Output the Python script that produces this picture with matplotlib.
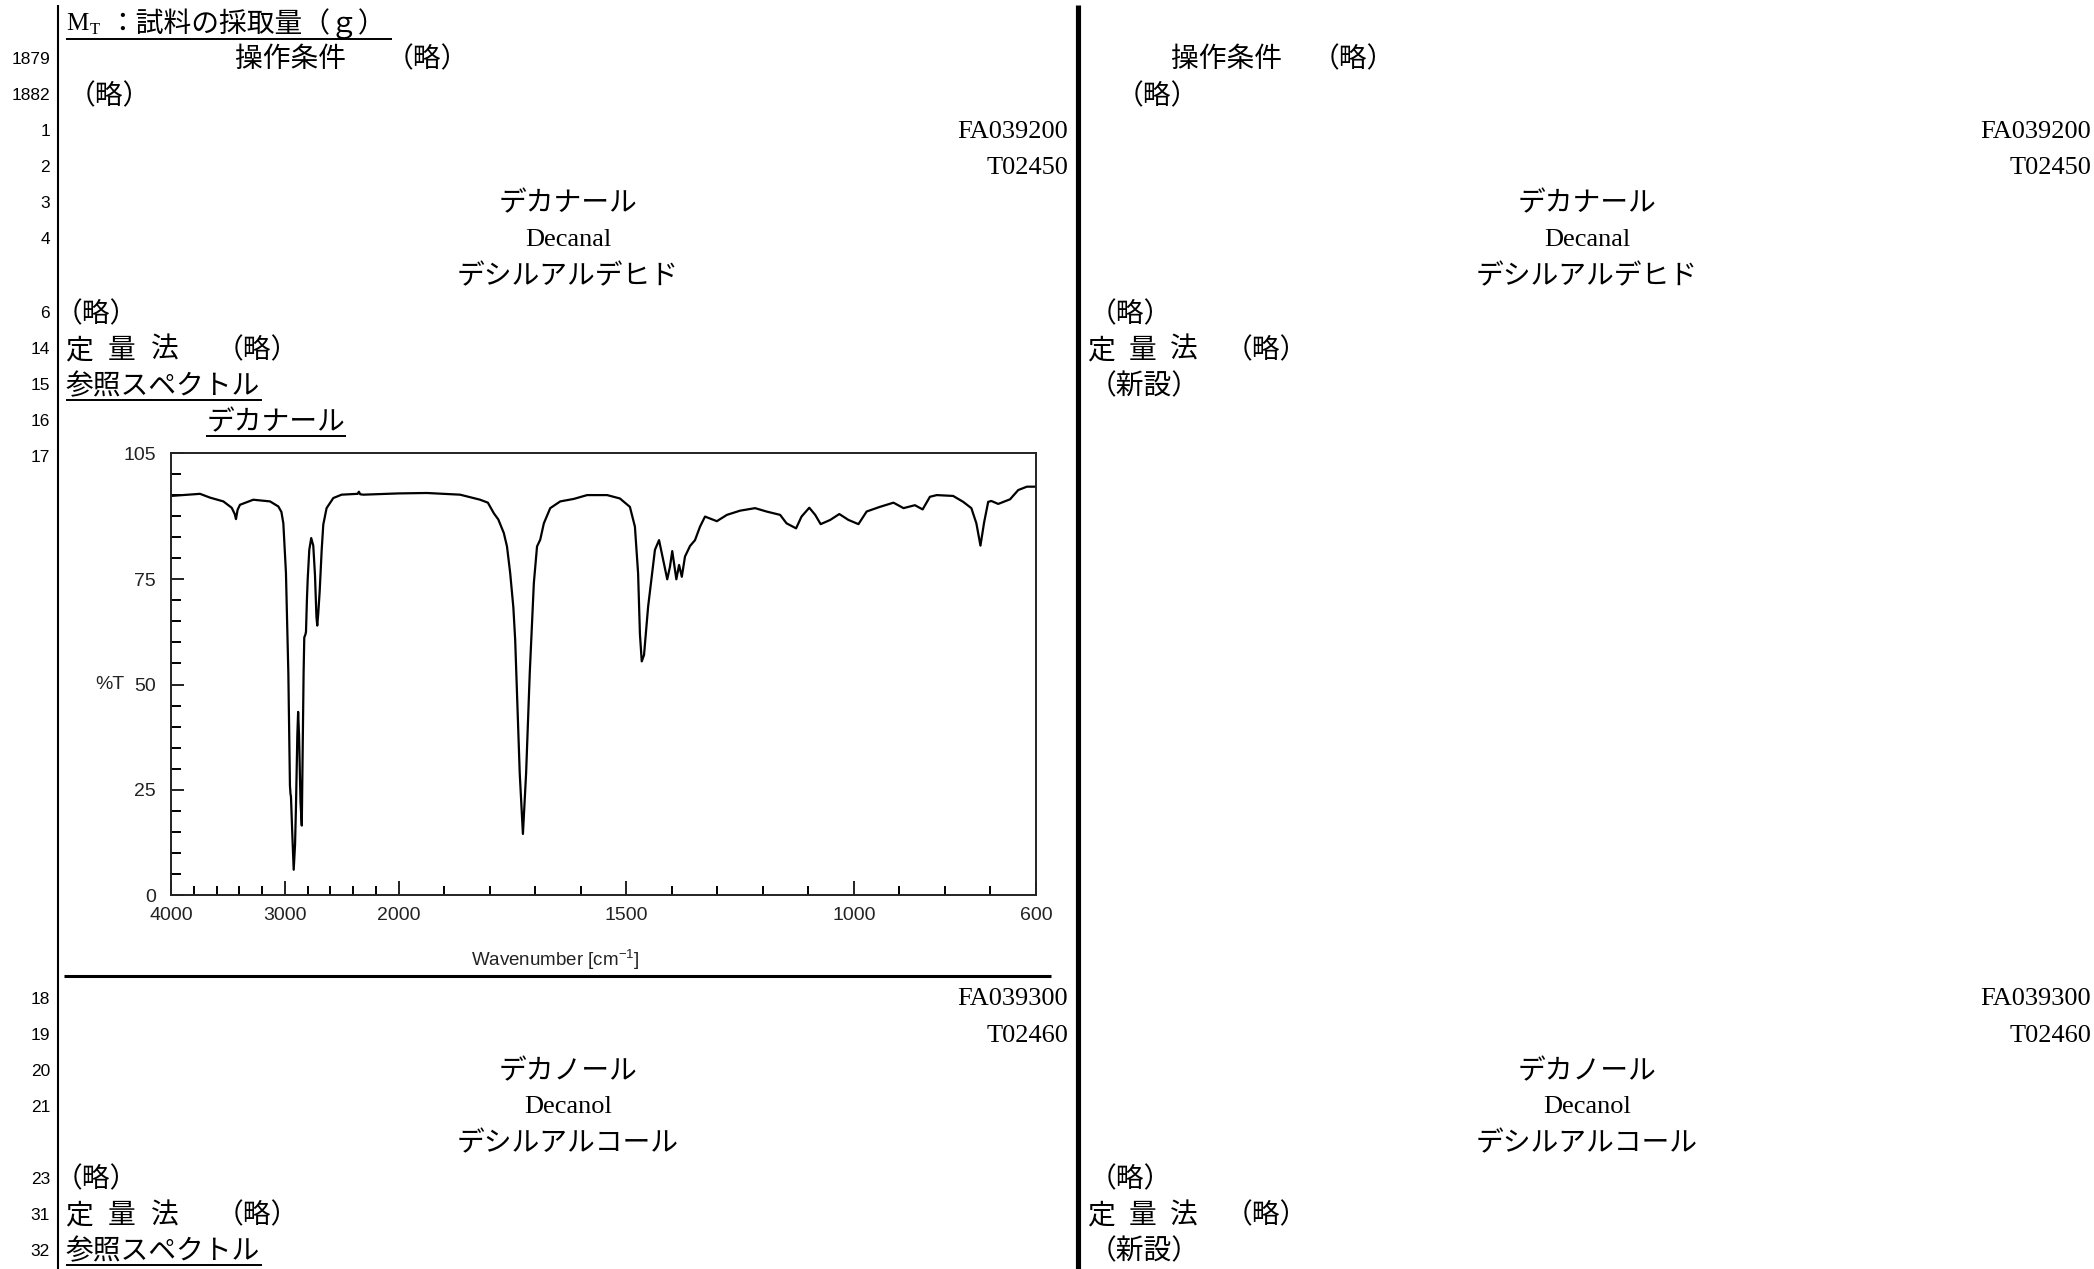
import numpy as np
import matplotlib
matplotlib.use("Agg")
import matplotlib.pyplot as plt
from matplotlib.lines import Line2D
from matplotlib.ticker import FixedLocator, FixedFormatter, NullFormatter
import matplotlib.transforms as mtransforms

# ---------------- data ----------------
wavenumber = [4000, 3900, 3745, 3657, 3540, 3467, 3440, 3429, 3415, 3394, 3277, 3130, 3057,
              3030, 3013, 2990, 2969, 2955, 2950, 2946, 2935, 2922, 2910, 2902, 2890, 2883,
              2875, 2862, 2851, 2843, 2835, 2829, 2820, 2814, 2806, 2799, 2785, 2768, 2750,
              2735, 2722, 2715, 2706, 2694, 2676, 2662, 2633, 2574, 2501, 2360, 2349, 2338,
              2310, 2000, 1938, 1865, 1821, 1804, 1791, 1781, 1769, 1762, 1755, 1748, 1744,
              1734, 1727, 1720, 1712,
              1703, 1696, 1689, 1681, 1667, 1645, 1615, 1586, 1542, 1514, 1492, 1481, 1474,
              1470, 1466, 1461, 1452, 1444, 1437, 1428, 1419, 1410, 1404, 1399, 1394, 1390,
              1384, 1378, 1371, 1360, 1349, 1338, 1327, 1301, 1279, 1250, 1217, 1192, 1162,
              1148, 1127, 1115, 1098, 1085, 1073, 1052, 1032, 1012, 990, 972, 943, 913, 891,
              866, 849, 833, 818, 782, 760, 742, 731, 722, 714, 705, 698, 683, 657, 639, 620,
              600]
transmittance = [94.8, 95.0, 95.3, 94.4, 93.5, 92.0, 90.5, 89.3, 91.5, 92.7, 93.9, 93.5, 92.3,
                 91.0, 88.3, 76.5, 52.7, 26.0, 24.0, 23.4, 15.0, 6.0, 12.0, 21.0, 38.0, 43.5,
                 38.0, 22.0, 16.5, 35.0, 52.7, 61.2, 61.8, 62.5, 70.0, 75.0, 82.0, 84.8, 83.0,
                 76.0, 66.0, 64.0, 67.0, 72.0, 82.0, 88.0, 91.9, 94.3, 95.1, 95.3, 95.8, 95.2,
                 95.1, 95.4, 95.5, 95.1, 93.9, 93.2, 90.7, 89.2, 86.0, 82.8, 76.5, 68.3, 60.6,
                 28.9, 14.5, 28.9, 52.7,
                 74.1, 82.8, 84.4, 88.3, 91.9, 93.5, 94.1, 95.0, 95.0, 94.2, 92.2, 87.5, 76.4,
                 62.0, 55.5, 57.0, 68.5, 75.6, 82.0, 84.3, 79.6, 75.0, 78.0, 81.7, 78.0, 75.0,
                 78.4, 75.6, 80.4, 82.9, 84.3, 87.5, 89.9, 88.8, 90.3, 91.3, 91.9, 91.1, 90.3,
                 88.3, 87.1, 89.9, 92.0, 90.3, 88.1, 89.1, 90.5, 89.1, 88.1, 91.1, 92.2, 93.2, 91.9,
                 92.6, 91.6, 94.6, 95.0, 94.8, 93.4, 91.9, 88.3, 83.0, 88.5, 93.4, 93.6, 92.9, 94.0, 96.2, 97.0,
                 97.0]
x_major_ticks = [4000, 3000, 2000, 1500, 1000, 600]
x_minor_ticks = [3800, 3600, 3400, 3200, 2800, 2600, 2400, 2200, 1900, 1800, 1700, 1600,
                 1400, 1300, 1200, 1100, 900, 800, 700]
y_major_ticks = [0, 25, 50, 75, 105]
y_minor_ticks = [5, 10, 15, 20, 30, 35, 40, 45, 55, 60, 65, 70, 80, 85, 90, 95, 100]

line_numbers = ["1879", "1882", "1", "2", "3", "4", "6", "14", "15", "16", "17",
                "18", "19", "20", "21", "23", "31", "32"]
codes_1 = ["FA039200", "T02450"]
names_1 = ["デカナール", "Decanal", "デシルアルデヒド"]
codes_2 = ["FA039300", "T02460"]
names_2 = ["デカノール", "Decanol", "デシルアルコール"]

# ---------------- layout ----------------
W, H = 2094, 1269
JP = ["Noto Sans CJK JP", "DejaVu Sans"]
SERIF = ["Liberation Serif", "Noto Sans CJK JP"]
plt.rcParams["font.family"] = JP
plt.rcParams["mathtext.default"] = "regular"

fig = plt.figure(figsize=(W / 100, H / 100), dpi=100)
fig.patch.set_facecolor("white")


def fx(x):
    return x / W


def fy(y):
    return 1 - y / H


def put(x, y, s, ha="left", size=20, family=None, **kw):
    fig.text(fx(x), fy(y), s, ha=ha, va="center", fontsize=size,
             family=family if family is not None else JP, **kw)


def hline(x0, x1, y, lw=1.5):
    fig.add_artist(Line2D([fx(x0), fx(x1)], [fy(y), fy(y)], transform=fig.transFigure,
                          color="black", lw=lw, solid_capstyle="butt"))


def vline(x, y0, y1, lw=1.5):
    fig.add_artist(Line2D([fx(x), fx(x)], [fy(y0), fy(y1)], transform=fig.transFigure,
                          color="black", lw=lw, solid_capstyle="butt"))


# rule lines
vline(58, 5, H, lw=1.5)
vline(1078, 5, H, lw=3.7)
hline(64, 1051, 976, lw=2.2)

# line numbers
num_rows = [59, 96, 132, 168, 203, 240, 314, 350, 386, 422, 457,
            999, 1036, 1071, 1107, 1179, 1215, 1251]
for n, yy in zip(line_numbers, num_rows):
    put(50, yy, n, ha="right", size=12.5, family=["Liberation Sans"])

# M_T line
put(66, 24, "M", size=18, family=SERIF)
put(90, 30, "T", size=12, family=SERIF)
put(108, 24, "：試料の採取量（ｇ）", size=20)
hline(66, 392, 39, lw=1.4)

# ---- left column ----
put(235, 59, "操作条件", size=20)
put(386, 59, "（略）", size=20)
put(68, 96, "（略）", size=20)
put(1068, 132, codes_1[0], ha="right", size=19, family=SERIF)
put(1068, 168, codes_1[1], ha="right", size=19, family=SERIF)
put(568, 203, names_1[0], ha="center", size=20)
put(568, 240, names_1[1], ha="center", size=19, family=SERIF)
put(568, 276, names_1[2], ha="center", size=20)
put(55, 314, "（略）", size=20)
for ch, xx in zip("定量法", [65, 108, 151]):
    put(xx, 350, ch, size=20)
put(216, 350, "（略）", size=20)
put(65, 386, "参照スペクトル", size=20)
hline(66, 262, 400, lw=1.4)
put(207, 422, names_1[0], size=20)
hline(206, 346, 436, lw=1.4)

put(1068, 999, codes_2[0], ha="right", size=19, family=SERIF)
put(1068, 1036, codes_2[1], ha="right", size=19, family=SERIF)
put(568, 1071, names_2[0], ha="center", size=20)
put(568, 1107, names_2[1], ha="center", size=19, family=SERIF)
put(568, 1143, names_2[2], ha="center", size=20)
put(55, 1179, "（略）", size=20)
for ch, xx in zip("定量法", [65, 108, 151]):
    put(xx, 1215, ch, size=20)
put(216, 1215, "（略）", size=20)
put(65, 1251, "参照スペクトル", size=20)
hline(66, 262, 1265, lw=1.4)

# ---- right column ----
put(1171, 59, "操作条件", size=20)
put(1312, 59, "（略）", size=20)
put(1116, 96, "（略）", size=20)
put(2091, 132, codes_1[0], ha="right", size=19, family=SERIF)
put(2091, 168, codes_1[1], ha="right", size=19, family=SERIF)
put(1587, 203, names_1[0], ha="center", size=20)
put(1587, 240, names_1[1], ha="center", size=19, family=SERIF)
put(1587, 276, names_1[2], ha="center", size=20)
put(1089, 314, "（略）", size=20)
for ch, xx in zip("定量法", [1087, 1129, 1170]):
    put(xx, 350, ch, size=20)
put(1225, 350, "（略）", size=20)
put(1089, 386, "（新設）", size=20)

put(2091, 999, codes_2[0], ha="right", size=19, family=SERIF)
put(2091, 1036, codes_2[1], ha="right", size=19, family=SERIF)
put(1587, 1071, names_2[0], ha="center", size=20)
put(1587, 1107, names_2[1], ha="center", size=19, family=SERIF)
put(1587, 1143, names_2[2], ha="center", size=20)
put(1089, 1179, "（略）", size=20)
for ch, xx in zip("定量法", [1087, 1129, 1170]):
    put(xx, 1215, ch, size=20)
put(1225, 1215, "（略）", size=20)
put(1089, 1251, "（新設）", size=20)

# ---------------- spectrum chart ----------------
ax_l, ax_r, ax_t, ax_b = 171, 1036, 453, 895
ax = fig.add_axes([fx(ax_l), fy(ax_b), (ax_r - ax_l) / W, (ax_b - ax_t) / H])


def fwd(x):
    x = np.asarray(x, dtype=float)
    return np.where(x > 2000, 2000 + (x - 2000) / 4.0, x)


def inv(u):
    u = np.asarray(u, dtype=float)
    return np.where(u > 2000, 2000 + (u - 2000) * 4.0, u)


ax.set_xscale("function", functions=(fwd, inv))
ax.plot(wavenumber, transmittance, color="black", lw=1.6, solid_joinstyle="round")
ax.set_xlim(4000, 600)
ax.set_ylim(0, 105)

ax.xaxis.set_major_locator(FixedLocator(x_major_ticks))
ax.xaxis.set_major_formatter(FixedFormatter([str(v) for v in x_major_ticks]))
ax.xaxis.set_minor_locator(FixedLocator(x_minor_ticks))
ax.xaxis.set_minor_formatter(NullFormatter())
ax.yaxis.set_major_locator(FixedLocator(y_major_ticks))
ax.yaxis.set_major_formatter(FixedFormatter([str(v) for v in y_major_ticks]))
ax.yaxis.set_minor_locator(FixedLocator(y_minor_ticks))
ax.yaxis.set_minor_formatter(NullFormatter())

ax.tick_params(axis="x", which="major", direction="in", length=10, width=1.4, pad=9,
               labelsize=14, labelfontfamily="Liberation Sans", colors="#222222")
ax.tick_params(axis="x", which="minor", direction="in", length=6.5, width=1.4)
ax.tick_params(axis="y", which="major", direction="in", length=9.5, width=1.4, pad=11,
               labelsize=14, labelfontfamily="Liberation Sans", colors="#222222")
ax.tick_params(axis="y", which="minor", direction="in", length=7.2, width=1.4)
for sp in ax.spines.values():
    sp.set_linewidth(1.4)
    sp.set_color("#222222")

trans = mtransforms.blended_transform_factory(ax.transAxes, ax.transData)
ax.text(-0.087, 50, "%T", transform=trans, ha="left", va="center", fontsize=14,
        family="Liberation Sans", color="#222222")
ax.set_xlabel("Wavenumber [cm$^{-1}$]", fontsize=13.5, family="Liberation Sans", color="#222222")
ax.xaxis.set_label_coords(0.444, -0.12)

fig.savefig("out.png", dpi=100, facecolor="white")
